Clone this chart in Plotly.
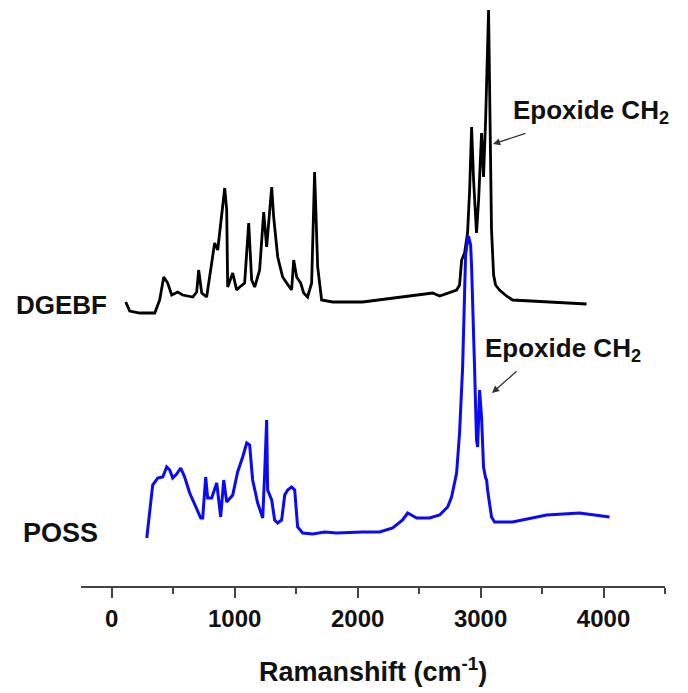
import plotly.graph_objects as go

# Raman shift (cm^-1) and intensity (a.u., offset stacked)
dgebf_shift = [114, 146, 228, 350, 390, 423, 455, 488, 537, 577, 659, 691, 707, 732, 772, 797,
               837, 862, 894, 919, 935, 943, 984, 1016, 1041, 1081, 1114, 1138, 1163, 1203, 1236,
               1260, 1301, 1317, 1350, 1390, 1423, 1463, 1480, 1504, 1537, 1561, 1593, 1626, 1650,
               1675, 1707, 1797, 2041, 2317, 2585, 2610, 2667, 2764, 2805, 2829, 2846, 2870, 2894,
               2911, 2927, 2943, 2967, 2984, 3008, 3024, 3041, 3065, 3081, 3089, 3106, 3122, 3154,
               3211, 3260, 3537, 3862]
dgebf_int = [284, 275, 273, 273, 286, 309, 303, 291, 294, 291, 289, 294, 316, 293, 289, 311,
             343, 336, 373, 398, 376, 299, 313, 296, 299, 303, 363, 306, 299, 316, 374,
             339, 399, 369, 329, 309, 303, 296, 326, 309, 303, 293, 289, 303, 414,
             319, 286, 284, 284, 288, 292, 293, 290, 294, 296, 301, 326, 333, 353,
             396, 459, 406, 353, 386, 453, 409, 466, 576, 436, 356, 311, 301, 296,
             290, 286, 284, 282]

poss_shift = [285, 309, 333, 374, 415, 447, 472, 496, 528, 561, 593, 634, 691, 724, 740, 764,
              780, 813, 854, 886, 911, 935, 984, 1024, 1065, 1098, 1122, 1146, 1187, 1228, 1244,
              1260, 1268, 1301, 1325, 1350, 1382, 1407, 1431, 1463, 1488, 1512, 1553, 1634, 1732,
              1829, 2041, 2179, 2285, 2366, 2407, 2480, 2585, 2667, 2732, 2764, 2805, 2829, 2854,
              2870, 2878, 2894, 2902, 2919, 2927, 2951, 2967, 2976, 2984, 2992, 3008, 3024, 3041,
              3049, 3057, 3089, 3114, 3260, 3537, 3805, 4049]
poss_int = [48, 76, 101, 108, 109, 119, 116, 108, 112, 118, 109, 93, 76, 68, 68, 109,
            88, 88, 103, 69, 106, 84, 91, 114, 129, 143, 141, 106, 83, 68, 113,
            166, 96, 86, 66, 63, 66, 91, 96, 99, 96, 59, 53, 52, 54,
            53, 54, 54, 58, 66, 73, 68, 68, 71, 79, 89, 113, 153, 219,
            309, 331, 346, 350, 341, 319, 219, 146, 139, 166, 196, 169, 119, 108,
            106, 96, 69, 64, 64, 71, 73, 69]

x_ticks = [0, 1000, 2000, 3000, 4000]

FONT = "Liberation Sans, Arial, sans-serif"

fig = go.Figure()
fig.add_trace(go.Scatter(x=dgebf_shift, y=dgebf_int, mode="lines",
                         line=dict(color="#000000", width=2.8), name="DGEBF"))
fig.add_trace(go.Scatter(x=poss_shift, y=poss_int, mode="lines",
                         line=dict(color="#0a0af5", width=3), name="POSS"))

W, H = 688, 693
L, R, T, B = 81, 23, 0, 107
pw, ph = W - L - R, H - T - B


def px(xp):
    return (xp - L) / pw


def py(yp):
    return (T + ph - yp) / ph


lab_font = dict(family=FONT, size=26, color="#111111", weight="bold")
annos = [
    dict(text="DGEBF", x=px(14), y=py(305), xanchor="left", yanchor="middle"),
    dict(text="POSS", x=px(21), y=py(533), xanchor="left", yanchor="middle",
         font=dict(family=FONT, size=27, color="#111111", weight="bold")),
    dict(text="Epoxide CH<sub>2</sub>", x=px(511), y=py(112), xanchor="left", yanchor="middle"),
    dict(text="Epoxide CH<sub>2</sub>", x=px(483), y=py(349), xanchor="left", yanchor="middle"),
    dict(text="Ramanshift (cm<sup>-1</sup>)", x=px(373), y=py(670), xanchor="center",
         yanchor="middle", font=dict(family=FONT, size=27, color="#111111", weight="bold")),
]
for a in annos:
    a.setdefault("font", lab_font)
    fig.add_annotation(xref="paper", yref="paper", showarrow=False, **a)

for head, tail in [((493, 144), (527, 133)), ((492, 393), (518, 370))]:
    fig.add_annotation(xref="paper", yref="paper", x=px(head[0]), y=py(head[1]), text="",
                       showarrow=True, ax=tail[0] - head[0], ay=tail[1] - head[1],
                       arrowhead=2, arrowsize=1.1, arrowwidth=1.3, arrowcolor="#333333")

fig.update_layout(
    width=W, height=H,
    margin=dict(l=L, r=R, t=T, b=B),
    paper_bgcolor="white", plot_bgcolor="white",
    showlegend=False,
    xaxis=dict(range=[-250, 4500], showgrid=False, zeroline=False,
               showline=True, linecolor="#444444", linewidth=1.5,
               ticks="outside", ticklen=10, tickwidth=1.5, tickcolor="#444444",
               tickvals=x_ticks, ticktext=[str(v) for v in x_ticks],
               tickfont=dict(family=FONT, size=24, color="#111111", weight="bold"),
               minor=dict(tickvals=[500, 1500, 2500, 3500, 4500], ticks="outside",
                          ticklen=6, tickwidth=1.5, tickcolor="#444444")),
    yaxis=dict(visible=False, range=[0, ph]),
)

fig.write_html("out.html")
